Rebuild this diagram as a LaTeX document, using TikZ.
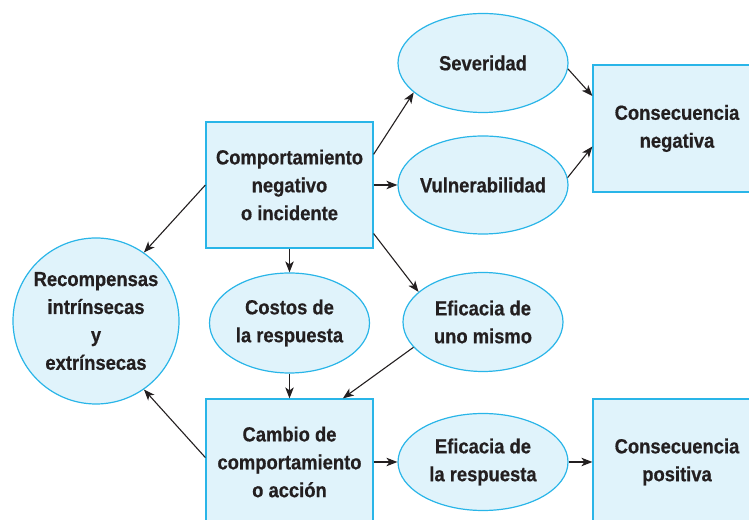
\documentclass[tikz,border=0pt]{standalone}
\usepackage{fontspec}
\newfontfamily\condfont{Liberation Sans}[FakeStretch=0.9,BoldFeatures={FakeBold=0.5}]
\usetikzlibrary{shapes.geometric,arrows.meta}
\definecolor{skyfill}{HTML}{E0F3FB}
\definecolor{skyline}{HTML}{29B5E8}
\definecolor{inkdark}{HTML}{231F20}

\begin{document}
\begin{tikzpicture}[x=1bp,y=1bp,
    txt/.style={font=\condfont\bfseries\fontsize{20.5}{28}\selectfont,text=inkdark,align=center},
    box/.style={draw=skyline,fill=skyfill,line width=1.2bp,minimum width=167bp,minimum height=126bp,txt},
    oval/.style={ellipse,draw=skyline,fill=skyfill,line width=1.2bp,inner sep=0pt,minimum width=170bp,minimum height=99bp},
    link/.style={draw=inkdark,line width=1.1bp,-{Stealth[length=11bp,width=8.5bp,inset=3bp]}},
    every label/.style={txt}]
        \useasboundingbox (0,0) rectangle (749,520);
        \clip (0,0) rectangle (749,520);
        % cajas
        \node[box] (comp) at (289.5,335) {Comportamiento\\negativo\\o incidente};
        \node[box] (cambio) at (289.5,58) {Cambio de\\comportamiento\\o acción};
        \node[box,minimum width=168bp,minimum height=127bp] (conneg) at (677,391.5) {Consecuencia\\negativa};
        \node[box,minimum width=168bp] (conpos) at (677,58) {Consecuencia\\positiva};
        % elipses
        \node[oval,label={center:Severidad}] (sev) at (483,457) {};
        \node[oval,minimum height=98bp,label={center:Vulnerabilidad}] (vul) at (483,335) {};
        \node[oval,minimum width=160bp,minimum height=100bp,label={center:{Costos de\\la respuesta}}] (costos) at (289.5,197) {};
        \node[oval,minimum width=160bp,label={center:{Eficacia de\\uno mismo}}] (efmis) at (483,198) {};
        \node[oval,minimum height=97bp,label={center:{Eficacia de\\la respuesta}}] (efres) at (483,58) {};
        \node[circle,draw=skyline,fill=skyfill,line width=1.2bp,inner sep=0pt,minimum size=166bp,
              label={center:{Recompensas\\intrínsecas\\y\\extrínsecas}}] (recomp) at (96,199) {};
        % flechas
        \draw[link] (comp.20) -- (sev.203);
        \draw[link] (comp.east) -- (vul.west);
        \draw[link] (comp.-30) -- (efmis.155);
        \draw[link] (comp.south) -- (costos.north);
        \draw[link] (comp.west) -- (recomp.55);
        \draw[link] (sev.-4) -- (conneg.159);
        \draw[link] (vul.5) -- (conneg.192);
        \draw[link] (costos.south) -- (cambio.north);
        \draw[link] (efmis.200) -- (cambio.50);
        \draw[link] (cambio.177) -- (recomp.-55);
        \draw[link] (cambio.east) -- (efres.west);
        \draw[link] (efres.east) -- (conpos.west);
      \end{tikzpicture}
\end{document}
